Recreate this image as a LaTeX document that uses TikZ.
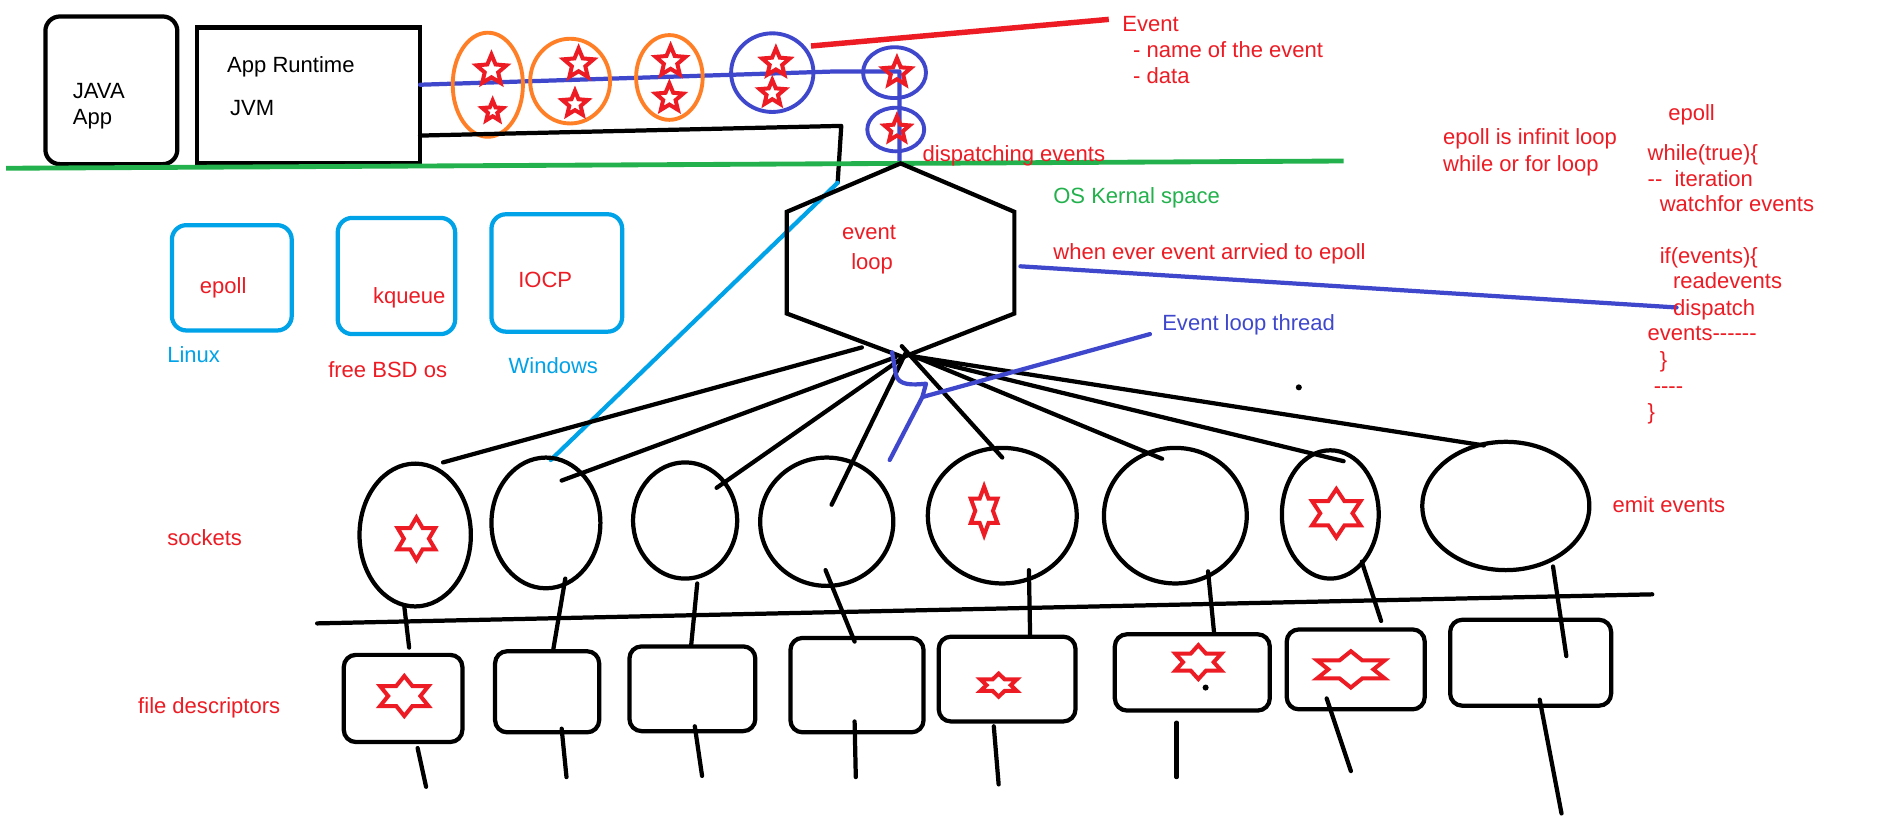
\documentclass[tikz,border=0pt]{standalone}
\usepackage{fontspec}
\setmainfont{Liberation Sans}
\usetikzlibrary{shapes.geometric,calc}
\definecolor{pRed}{HTML}{ED1C24}
\definecolor{pGreen}{HTML}{22B14C}
\definecolor{pIndigo}{HTML}{3F48CC}
\definecolor{pOrange}{HTML}{FF7F27}
\definecolor{pTurq}{HTML}{00A2E8}
\tikzset{
  thk/.style={line width=3.5pt, line cap=round, line join=round},
  sock/.style={draw, ellipse, line width=3.5pt, inner sep=0pt},
  fdbox/.style={draw, rounded corners=10pt, line width=3.5pt, inner sep=0pt},
  osbox/.style={draw=pTurq, rounded corners=12pt, line width=3.5pt, inner sep=0pt},
  topell/.style={draw, ellipse, line width=3.2pt, inner sep=0pt},
  lbl/.style={font=\fontsize{18.2}{21}\selectfont, inner sep=0pt, text height=13pt, text depth=4pt, anchor=west, yshift=-2.2pt},
  starline/.style={pRed, line width=3.3pt, line join=miter},
}
% five-point star: x y r
\newcommand\starfive[3]{%
  \draw[starline] plot[samples at={0,...,9}, variable=\k]
   ({#1+#3*(1-0.55*mod(\k,2))*cos(-90+36*\k)}, {#2+#3*(1-0.55*mod(\k,2))*sin(-90+36*\k)}) -- cycle;}
% six-point star: x y w h
\newcommand\starsix[4]{%
  \draw[starline] plot[samples at={0,...,11}, variable=\k]
   ({#1+#3/1.732*(1-0.423*mod(\k,2))*cos(-90+30*\k)}, {#2+#4/2*(1-0.423*mod(\k,2))*sin(-90+30*\k)}) -- cycle;}
\begin{document}
\begin{tikzpicture}[x=1pt,y=-1pt]
\fill[white] (0,0) rectangle (1568,689);
\useasboundingbox (0,0) rectangle (1568,689);

% ---------- user space ----------
\node[draw, rounded corners=12pt, line width=3.5pt, minimum width=109pt, minimum height=122pt, inner sep=0pt] (JA) at (92,74.6) {};
\node[lbl] (javaT) at (60,74.4) {JAVA};
\node[lbl] (appT) at (60,96.4) {App};
\node[draw, line width=3.5pt, minimum width=184pt, minimum height=112pt, inner sep=0pt] (AR) at (255,78.8) {};
\node[lbl] (arT) at (187.5,52.9) {App Runtime};
\node[lbl] (jvmT) at (190,89) {JVM};

% blue event queue line
\coordinate (q0) at (347,70);
\coordinate (q1) at (691,59);
\coordinate (q2) at (743,59);
\coordinate (q3) at (743,135);
\draw[pIndigo, thk] (q0) -- (q1) -- (q2) -- (q3);

\node[topell, draw=pOrange, minimum width=58pt, minimum height=86pt] (O1) at (403,70) {};
\node[topell, draw=pOrange, minimum width=66pt, minimum height=70pt] (O2) at (471,67) {};
\node[topell, draw=pOrange, minimum width=55pt, minimum height=70pt] (O3) at (553,64) {};
\node[topell, draw=pIndigo, minimum width=68pt, minimum height=65pt] (B1) at (638,60) {};
\node[topell, draw=pIndigo, minimum width=52pt, minimum height=42pt] (B2) at (739,60) {};
\node[topell, draw=pIndigo, minimum width=47pt, minimum height=36pt] (B3) at (740,107) {};

\starfive{406}{58}{13}
\starfive{407}{92}{9}
\starfive{478}{53}{13}
\starfive{475}{86}{11}
\starfive{554}{51}{13}
\starfive{553}{81}{12}
\starfive{641}{52}{12}
\starfive{638}{77}{11}
\starfive{741}{60}{12}
\starfive{741}{107}{11}

% event annotation
\coordinate (r0) at (670,38);
\coordinate (r1) at (916,16);
\draw[pRed, line width=4.5pt] (r0) -- (r1);
\node[lbl, text=pRed] (evT) at (927,19) {Event};
\node[lbl, text=pRed] (ev1) at (936,41) {- name of the event};
\node[lbl, text=pRed] (ev2) at (936,62) {- data};

% runtime -> event loop connector
\coordinate (c0) at (347,112);
\coordinate (c1) at (695,104);
\coordinate (c2) at (692,151);
\coordinate (c3) at (455,380);
\draw[thk] (c0) -- (c1) -- (c2);
\draw[pTurq, thk] (c2) -- (c3);

% kernel boundary
\coordinate (g0) at (5,139);
\coordinate (g1) at (1110,133);
\draw[pGreen, line width=4pt] (g0) -- (g1);
\node[lbl, text=pRed] (dispT) at (762,127) {dispatching events};
\node[lbl, text=pGreen] (osT) at (870,161) {OS Kernal space};

% OS mechanisms
\node[osbox, minimum width=99pt, minimum height=87pt] (ep) at (191.5,229.5) {};
\node[osbox, minimum width=97pt, minimum height=96pt] (kq) at (327.5,228) {};
\node[osbox, minimum width=108pt, minimum height=97pt] (io) at (460,225.5) {};
\node[lbl, text=pRed] (epT) at (165,235.5) {epoll};
\node[lbl, text=pRed] (kqT) at (308,243.7) {kqueue};
\node[lbl, text=pRed] (ioT) at (428,231) {IOCP};
\node[lbl, text=pTurq] (linT) at (138,293) {Linux};
\node[lbl, text=pRed] (bsdT) at (271,305.5) {free BSD os};
\node[lbl, text=pTurq] (winT) at (420,301.5) {Windows};

% event loop hexagon
\coordinate (hT) at (744,135);
\coordinate (hUR) at (838,175);
\coordinate (hLR) at (838,259);
\coordinate (hB) at (746,295);
\coordinate (hLL) at (650,259);
\coordinate (hUL) at (650,175);
\draw[thk, line join=miter] (hT) -- (hUR) -- (hLR) -- (hB) -- (hLL) -- (hUL) -- cycle;
\node[lbl, anchor=center, text=pRed] (elT1) at (718,191) {event};
\node[lbl, anchor=center, text=pRed] (elT2) at (720.5,216) {loop};

\node[lbl, text=pRed] (wheT) at (870,208) {when ever event arrvied to epoll};
\coordinate (d0) at (843,220);
\coordinate (d1) at (1385,254);
\draw[pIndigo, thk] (d0) -- (d1);

% right notes
\node[lbl, text=pRed] (n1) at (1192,113) {epoll is infinit loop};
\node[lbl, text=pRed] (n2) at (1192,135) {while or for loop};
\node[lbl, text=pRed] (k0) at (1378,92.5) {epoll};
\node[lbl, text=pRed] (k1) at (1361,126) {while(true)\{};
\node[lbl, text=pRed] (k2) at (1361,147) {-{}-\ \ iteration};
\node[lbl, text=pRed] (k3) at (1371,168) {watchfor events};
\node[lbl, text=pRed] (k4) at (1371,211) {if(events)\{};
\node[lbl, text=pRed] (k5) at (1382,232) {readevents};
\node[lbl, text=pRed] (k6) at (1382,253.6) {dispatch};
\node[lbl, text=pRed] (k7) at (1361,275) {events-{}-{}-{}-{}-{}-};
\node[lbl, text=pRed] (k8) at (1371,297) {\}};
\node[lbl, text=pRed] (k9) at (1366,318) {-{}-{}-{}-};
\node[lbl, text=pRed] (k10) at (1361,340) {\}};

% sockets
\node[sock, minimum width=92pt, minimum height=118pt] (S1) at (343,442) {};
\node[sock, minimum width=90pt, minimum height=108pt] (S2) at (451,432) {};
\node[sock, minimum width=86pt, minimum height=96pt] (S3) at (566,430) {};
\node[sock, minimum width=110pt, minimum height=106pt] (S4) at (683,431) {};
\node[sock, minimum width=123pt, minimum height=112pt] (S5) at (828,426) {};
\node[sock, minimum width=118pt, minimum height=112pt] (S6) at (971,426) {};
\node[sock, minimum width=80pt, minimum height=106pt] (S7) at (1099,425) {};
\node[sock, minimum width=138pt, minimum height=106pt] (S8) at (1244,418) {};
\node[lbl, text=pRed] (sockT) at (138,444) {sockets};
\node[lbl, text=pRed] (emitT) at (1332,417) {emit events};

% fan from event loop to sockets
\foreach \n/\ax/\ay/\bx/\by in {1/712/287/366/382, 2/740/295/464/397, 3/748/294/592/403, 4/748/292/687/417,
  5/745/286/828/378, 6/752/293/960/379, 7/752/294/1110/381, 8/752/294/1226/368}{
  \coordinate (fa\n) at (\ax,\ay);
  \coordinate (fb\n) at (\bx,\by);
}
\foreach \n in {1,...,8}{\draw[thk] (fa\n) -- (fb\n);}

% event loop thread pointer
\coordinate (t0) at (950,276);
\coordinate (t1) at (762,328);
\coordinate (z0) at (737,291);
\coordinate (z1) at (740,309);
\coordinate (z2) at (765,317);
\coordinate (z3) at (735,380);
\draw[pIndigo, thk] (t0) -- (t1);
\draw[pIndigo, thk] (z0) -- (z1) to[out=-80,in=185] (z2) -- (t1) -- (z3);
\node[lbl, text=pIndigo] (thrT) at (960,266) {Event loop thread};

% kernel/user separator
\coordinate (k0a) at (262,515);
\coordinate (k0b) at (1365,491);
\draw[thk] (k0a) -- (k0b);

% file descriptors
\node[fdbox, minimum width=98pt, minimum height=72pt] (F1) at (333,577) {};
\node[fdbox, minimum width=86pt, minimum height=67pt] (F2) at (452,571.5) {};
\node[fdbox, minimum width=104pt, minimum height=70pt] (F3) at (572,569) {};
\node[fdbox, minimum width=110pt, minimum height=78pt] (F4) at (708,566) {};
\node[fdbox, minimum width=113pt, minimum height=70pt] (F5) at (832,561) {};
\node[fdbox, minimum width=128pt, minimum height=63pt] (F6) at (985,555.5) {};
\node[fdbox, minimum width=114pt, minimum height=66pt] (F7) at (1120,553) {};
\node[fdbox, minimum width=133pt, minimum height=71pt] (F8) at (1264.5,547.5) {};
\node[lbl, text=pRed] (fdT) at (114,583) {file descriptors};

% socket -> fd links
\foreach \n/\ax/\ay/\bx/\by in {1/334/501/338/535, 2/467/478/457/537, 3/576/482/571/533, 4/682/471/706/530,
  5/850/471/851/525, 6/998/472/1003/523, 7/1125/464/1141/513, 8/1283/468/1294/542}{
  \coordinate (sa\n) at (\ax,\ay);
  \coordinate (sb\n) at (\bx,\by);
}
\foreach \n in {1,...,8}{\draw[thk] (sa\n) -- (sb\n);}

% fd tails
\foreach \n/\ax/\ay/\bx/\by in {1/345/618/352/650, 2/464/602/468/642, 3/574/600/580/641, 4/706/596/707/642,
  5/821/600/825/648, 6/972/597/972/642, 7/1096/577/1116/637, 8/1272/578/1290/672}{
  \coordinate (ta\n) at (\ax,\ay);
  \coordinate (tb\n) at (\bx,\by);
}
\foreach \n in {1,...,8}{\draw[thk] (ta\n) -- (tb\n);}

% six-point stars (events)
\starsix{344}{445}{31}{35}
\starsix{813}{422}{22}{40}
\starsix{1104}{424}{40}{40}
\starsix{334}{575}{40}{33}
\starsix{825}{566}{30}{19}
\starsix{990}{547}{38}{28}
\starsix{1116}{553}{56}{30}

% stray dots
\fill (1073,320) circle (2.5pt);
\fill (996,568) circle (2.5pt);
\end{tikzpicture}
\end{document}
